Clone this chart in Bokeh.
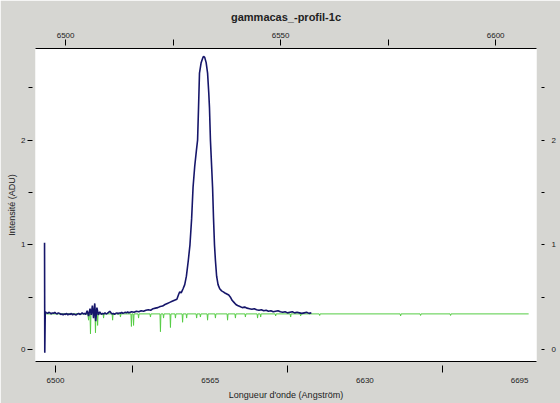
from bokeh.plotting import figure
from bokeh.models import Range1d, LinearAxis, FixedTicker
from bokeh.embed import file_html
from bokeh.resources import INLINE

title_text = "gammacas_-profil-1c"
x_label = "Longueur d'onde (Angström)"
y_label = "Intensité (ADU)"

bottom_ticks = [6500, 6532.5, 6597.5, 6662.5]
bottom_label_ticks = [6500, 6565, 6630, 6695]
top_ticks = [6500, 6550, 6600]
top_minor = [6525, 6575]
y_ticks = [0, 1, 2]
y_minor = [0.5, 1.5, 2.5]

blue_wl = [6495.4, 6495.5, 6495.7, 6496.2, 6496.7, 6497.2, 6497.7, 6498.2, 6498.7, 6499.2,
           6499.7, 6500.2, 6500.7, 6501.2, 6501.7, 6502.2, 6502.7, 6503.2, 6503.7, 6504.2,
           6504.7, 6505.2, 6505.7, 6506.2, 6506.7, 6507.2, 6507.7, 6508.2, 6508.7, 6509.2,
           6509.7, 6510.2, 6510.7, 6511.2, 6511.7, 6512.2, 6512.7, 6513.3, 6513.9, 6514.5,
           6515.0, 6515.5, 6516.0, 6516.5, 6516.9, 6517.4, 6518.0, 6518.6, 6519.3, 6519.8,
           6520.3, 6520.8, 6521.3, 6521.8, 6522.3, 6522.8, 6523.3, 6523.8, 6524.3, 6524.8,
           6525.3, 6525.8, 6526.3, 6526.8, 6527.3, 6527.8, 6528.3, 6528.8, 6529.3, 6529.8,
           6530.3, 6530.8, 6532.0, 6533.0, 6534.0, 6535.0, 6536.0, 6537.0, 6538.0, 6539.0,
           6540.0, 6541.0, 6542.0, 6543.0, 6544.0, 6545.0, 6546.0, 6547.0, 6548.0, 6549.0,
           6550.0, 6551.0, 6551.8, 6552.2, 6552.8, 6553.2, 6553.6, 6554.3, 6555.0, 6555.8,
           6556.5, 6557.2, 6557.8, 6558.5, 6559.2, 6559.7, 6560.1, 6560.5, 6561.2, 6561.8,
           6562.2, 6562.7, 6563.3, 6563.9, 6564.4, 6564.7, 6565.1, 6565.6, 6566.0, 6566.4,
           6566.8, 6567.2, 6567.7, 6568.3, 6569.0, 6569.8, 6570.5, 6571.2, 6572.0, 6572.8,
           6573.5, 6574.2, 6575.0, 6575.8, 6576.5, 6577.5, 6578.5, 6579.5, 6580.5, 6581.5,
           6582.5, 6583.5, 6584.5, 6585.5, 6586.5, 6587.5, 6588.5, 6589.5, 6590.5, 6591.5,
           6592.5, 6593.5, 6594.5, 6595.5, 6596.5, 6597.5, 6598.5, 6599.5, 6600.5, 6601.5,
           6602.5, 6603.5, 6604.5, 6605.5, 6606.5, 6607.5]
blue_int = [1.02, -0.03, 0.36, 0.35, 0.345, 0.355, 0.35, 0.34, 0.35, 0.345,
            0.355, 0.345, 0.34, 0.35, 0.345, 0.335, 0.34, 0.33, 0.34, 0.335,
            0.345, 0.33, 0.34, 0.335, 0.345, 0.33, 0.34, 0.335, 0.33, 0.34,
            0.345, 0.335, 0.34, 0.35, 0.34, 0.345, 0.335, 0.37, 0.32, 0.39,
            0.33, 0.42, 0.30, 0.44, 0.27, 0.40, 0.33, 0.36, 0.335, 0.345,
            0.34, 0.35, 0.34, 0.345, 0.355, 0.365, 0.35, 0.34, 0.345, 0.335,
            0.345, 0.35, 0.34, 0.35, 0.345, 0.355, 0.345, 0.35, 0.355, 0.35,
            0.36, 0.35, 0.36, 0.355, 0.365, 0.36, 0.37, 0.365, 0.375, 0.38,
            0.375, 0.39, 0.395, 0.40, 0.41, 0.415, 0.43, 0.44, 0.45, 0.46,
            0.47, 0.48, 0.53, 0.55, 0.54, 0.56, 0.58, 0.62, 0.70, 0.85,
            1.00, 1.25, 1.55, 1.75, 1.90, 2.00, 2.31, 2.64, 2.74, 2.78,
            2.80, 2.79, 2.74, 2.64, 2.45, 2.31, 2.00, 1.75, 1.55, 1.25,
            1.00, 0.85, 0.70, 0.62, 0.58, 0.56, 0.55, 0.54, 0.53, 0.52,
            0.50, 0.47, 0.45, 0.43, 0.42, 0.41, 0.40, 0.405, 0.395, 0.39,
            0.385, 0.39, 0.38, 0.375, 0.38, 0.37, 0.375, 0.365, 0.37, 0.36,
            0.365, 0.37, 0.36, 0.355, 0.36, 0.35, 0.355, 0.36, 0.35, 0.355,
            0.35, 0.345, 0.35, 0.355, 0.345, 0.35]

green_wl = [6495.4, 6513.6, 6513.9, 6514.2, 6514.5, 6514.7, 6514.9, 6516.6, 6516.8, 6517.0,
            6517.5, 6517.7, 6517.9, 6520.0, 6520.2, 6520.4, 6523.8, 6524.0, 6524.2, 6527.1,
            6527.3, 6527.5, 6531.7, 6531.9, 6532.1, 6532.6, 6532.8, 6533.0, 6534.7, 6534.9,
            6535.1, 6539.7, 6539.9, 6540.1, 6543.9, 6544.1, 6544.3, 6545.2, 6545.4, 6545.6,
            6548.1, 6548.3, 6548.5, 6550.2, 6550.4, 6550.6, 6553.2, 6553.4, 6553.6, 6554.9,
            6555.1, 6555.3, 6559.1, 6559.3, 6559.5, 6560.7, 6560.9, 6561.1, 6563.7, 6563.9,
            6564.1, 6567.0, 6567.2, 6567.4, 6572.1, 6572.3, 6572.5, 6575.4, 6575.6, 6575.8,
            6579.6, 6579.8, 6580.0, 6584.7, 6584.9, 6585.1, 6586.0, 6586.2, 6586.4, 6592.3,
            6592.5, 6592.7, 6598.6, 6598.8, 6599.0, 6602.8, 6603.0, 6603.2, 6610.8, 6611.0,
            6611.2, 6644.8, 6645.0, 6645.2, 6653.2, 6653.4, 6653.6, 6665.8, 6666.0, 6666.2,
            6698.8]
green_int = [0.34, 0.34, 0.28, 0.34, 0.34, 0.15, 0.34, 0.34, 0.16, 0.34,
             0.34, 0.23, 0.34, 0.34, 0.30, 0.34, 0.34, 0.28, 0.34, 0.34,
             0.31, 0.34, 0.34, 0.22, 0.34, 0.34, 0.23, 0.34, 0.34, 0.30,
             0.34, 0.34, 0.31, 0.34, 0.34, 0.17, 0.34, 0.34, 0.30, 0.34,
             0.34, 0.21, 0.34, 0.34, 0.30, 0.34, 0.34, 0.26, 0.34, 0.34,
             0.30, 0.34, 0.34, 0.30, 0.34, 0.34, 0.31, 0.34, 0.34, 0.28,
             0.34, 0.34, 0.30, 0.34, 0.34, 0.28, 0.34, 0.34, 0.30, 0.34,
             0.34, 0.31, 0.34, 0.34, 0.30, 0.34, 0.34, 0.31, 0.34, 0.34,
             0.32, 0.34, 0.34, 0.31, 0.34, 0.34, 0.32, 0.34, 0.34, 0.325,
             0.34, 0.34, 0.32, 0.34, 0.34, 0.325, 0.34, 0.34, 0.325, 0.34,
             0.34]

GRAY = "#d6d6d2"
TXT = "#222222"
FONT = "Liberation Sans"

p = figure(width=560, height=403,
           x_range=Range1d(6491.6, 6702.1), y_range=Range1d(-0.1146, 2.875),
           output_backend="svg", toolbar_location=None, title=title_text,
           min_border_left=35, min_border_right=24, min_border_top=48, min_border_bottom=42,
           background_fill_color="white", border_fill_color=GRAY,
           outline_line_color=None)
p.grid.visible = False
p.extra_x_ranges = {"top": Range1d(6493.0, 6609.5)}

p.title.text_font = FONT
p.title.text_font_size = "11px"
p.title.text_font_style = "bold"
p.title.text_color = TXT
p.title.align = "center"
p.title.standoff = 13

def style_axis(ax):
    ax.major_label_text_font = FONT
    ax.major_label_text_font_size = "8px"
    ax.major_label_text_color = TXT
    ax.axis_label_text_font = FONT
    ax.axis_label_text_font_size = "9px"
    ax.axis_label_text_font_style = "normal"
    ax.axis_label_text_color = TXT
    ax.major_tick_line_color = "black"
    ax.minor_tick_line_color = "black"

# bottom: tick marks only (drawn as minor ticks, no labels)
bx = p.xaxis[0]
style_axis(bx)
bx.ticker = FixedTicker(ticks=[], minor_ticks=bottom_ticks)
bx.major_tick_in = 0
bx.major_tick_out = 0
bx.minor_tick_in = -4
bx.minor_tick_out = 11
bx.major_label_standoff = 0
bx.axis_line_color = "black"

# bottom: labels
bl = LinearAxis(ticker=FixedTicker(ticks=bottom_label_ticks, minor_ticks=[]))
style_axis(bl)
bl.major_tick_in = 0
bl.major_tick_out = 0
bl.minor_tick_in = 0
bl.minor_tick_out = 0
bl.axis_line_color = None
bl.major_label_standoff = 5
bl.axis_label = x_label
bl.axis_label_standoff = 4
p.add_layout(bl, "below")

# top axis
tx = LinearAxis(x_range_name="top", ticker=FixedTicker(ticks=top_ticks, minor_ticks=top_minor))
style_axis(tx)
tx.major_tick_in = -3
tx.major_tick_out = 9
tx.minor_tick_in = -3
tx.minor_tick_out = 9
tx.major_label_standoff = 2
tx.axis_line_color = "black"
p.add_layout(tx, "above")

# left axis
ly = p.yaxis[0]
style_axis(ly)
ly.ticker = FixedTicker(ticks=y_ticks, minor_ticks=y_minor)
ly.axis_line_color = None
ly.major_tick_in = -3
ly.major_tick_out = 8
ly.minor_tick_in = -3
ly.minor_tick_out = 7
ly.major_label_standoff = 2
ly.axis_label = y_label
ly.axis_label_standoff = 1

# right axis
ry = LinearAxis(ticker=FixedTicker(ticks=y_ticks, minor_ticks=y_minor))
style_axis(ry)
ry.axis_line_color = None
ry.major_tick_in = -5
ry.major_tick_out = 8
ry.minor_tick_in = -5
ry.minor_tick_out = 8
ry.major_label_standoff = 7
p.add_layout(ry, "right")

p.line(green_wl, green_int, line_color="#55cc44", line_width=1)
p.line(blue_wl, blue_int, line_color="#16166a", line_width=1.6)

open("out.html", "w").write(file_html(p, INLINE))
